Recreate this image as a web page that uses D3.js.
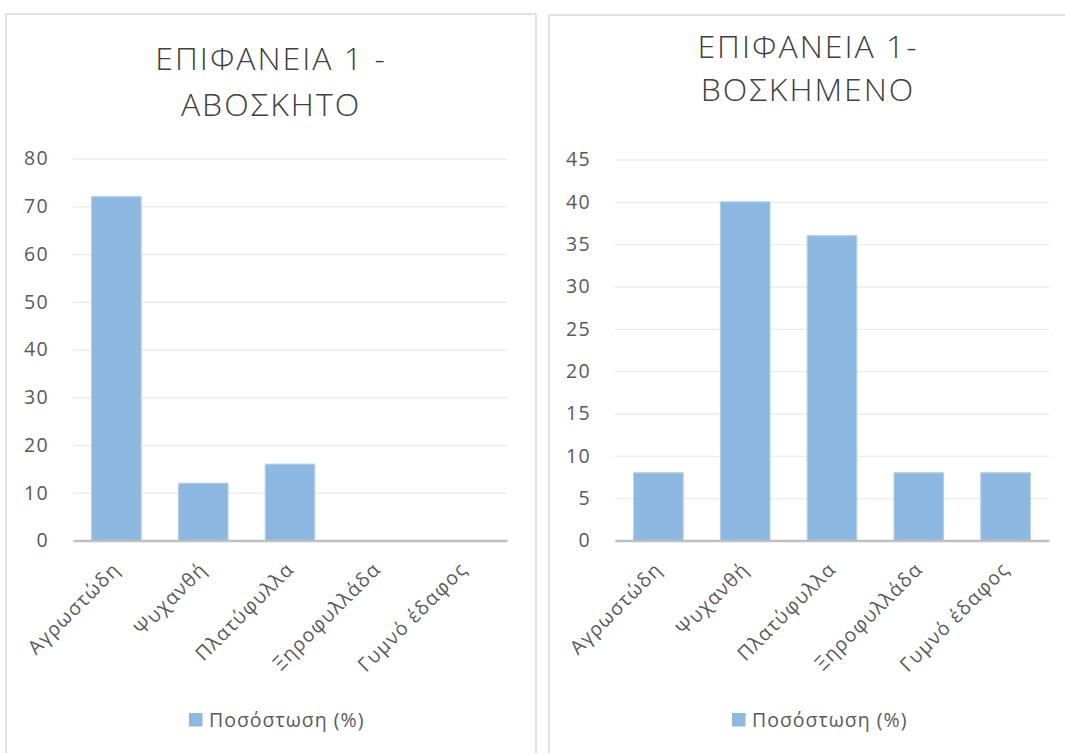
<!DOCTYPE html>
<html>
<head>
<meta charset="utf-8">
<script src="https://cdn.jsdelivr.net/npm/d3@7"></script>
<style>
  html, body { margin: 0; padding: 0; background: #ffffff; }
  svg { display: block; }
</style>
</head>
<body>
<svg id="chart" width="1065" height="753"></svg>
<script>
// ---- data ----
const categories = ["Αγρωστώδη", "Ψυχανθή", "Πλατύφυλλα", "Ξηροφυλλάδα", "Γυμνό έδαφος"];
const valuesUngrazed = [72, 12, 16, 0, 0];
const valuesGrazed = [8, 40, 36, 8, 8];
const ticksUngrazed = [0, 10, 20, 30, 40, 50, 60, 70, 80];
const ticksGrazed = [0, 5, 10, 15, 20, 25, 30, 35, 40, 45];
const titleUngrazed = ["ΕΠΙΦΑΝΕΙΑ 1 -", "ΑΒΟΣΚΗΤΟ"];
const titleGrazed = ["ΕΠΙΦΑΝΕΙΑ 1-", "ΒΟΣΚΗΜΕΝΟ"];
const seriesName = "Ποσόστωση (%)";

const svg = d3.select("#chart");
const FONT = "'Open Sans', 'Noto Sans', sans-serif";
const BAR = "#8db8e2";
const LBL = 19.5, LSP = 1.3;

function drawPanel(cfg) {
  const g = svg.append("g");
  // panel border
  g.append("rect")
    .attr("x", cfg.box[0]).attr("y", cfg.box[1])
    .attr("width", cfg.box[2] - cfg.box[0]).attr("height", cfg.box[3] - cfg.box[1])
    .attr("fill", "#fff").attr("stroke", "#d9d9d9").attr("stroke-width", 1.5);

  // title
  const t = g.append("text")
    .attr("x", cfg.titleX).attr("y", cfg.titleY)
    .attr("text-anchor", "middle")
    .attr("font-family", FONT).attr("font-weight", 300)
    .attr("font-size", 32).attr("letter-spacing", 2)
    .attr("fill", "#404040");
  cfg.title.forEach((line, i) => {
    t.append("tspan").attr("x", cfg.titleX).attr("dy", i === 0 ? 0 : cfg.titleLH).text(line);
  });

  const x = d3.scaleBand().domain(cfg.categories)
    .range([cfg.plot[0], cfg.plot[1]])
    .paddingInner(0.75 / 1.75).paddingOuter(0.75 / 3.5);
  const y = d3.scaleLinear().domain([0, d3.max(cfg.ticks)])
    .range([cfg.plot[3], cfg.plot[2]]);

  // gridlines + y labels
  const yAxis = d3.axisLeft(y).tickValues(cfg.ticks)
    .tickSize(-(cfg.plot[1] - cfg.plot[0])).tickPadding(24).tickFormat(d3.format("d"));
  const ga = g.append("g").attr("transform", `translate(${cfg.plot[0]},0)`).call(yAxis);
  ga.select(".domain").remove();
  ga.selectAll(".tick line").attr("stroke", "#ececec").attr("stroke-width", 1.3);
  ga.selectAll(".tick text")
    .attr("font-family", FONT).attr("font-size", LBL).attr("letter-spacing", LSP)
    .attr("fill", "#595959");

  // bars
  g.selectAll("rect.bar").data(cfg.values).enter().append("rect")
    .attr("class", "bar")
    .attr("x", (d, i) => x(cfg.categories[i]))
    .attr("y", d => y(d))
    .attr("width", x.bandwidth())
    .attr("height", d => y(0) - y(d))
    .attr("fill", BAR)
    .attr("stroke", d => d > 0 ? "#b3cfec" : "none").attr("stroke-width", 1);

  // x axis line + rotated labels
  const xAxis = d3.axisBottom(x).tickSize(0).tickPadding(0);
  const gx = g.append("g").attr("transform", `translate(0,${y(0)})`).call(xAxis);
  gx.select(".domain").attr("stroke", "#bfbfbf").attr("stroke-width", 2.5);
  gx.selectAll(".tick text")
    .attr("font-family", FONT).attr("font-size", LBL).attr("letter-spacing", LSP)
    .attr("fill", "#595959")
    .attr("text-anchor", "end")
    .attr("dy", 0).attr("y", 0)
    .attr("transform", "translate(5,30) rotate(-45)");

  // legend
  const lg = g.append("g").attr("transform", `translate(${cfg.legend[0]},${cfg.legend[1]})`);
  lg.append("rect").attr("x", 0).attr("y", -7).attr("width", 13.5).attr("height", 13.5).attr("fill", BAR);
  lg.append("text").attr("x", 20).attr("y", 0).attr("dy", "0.35em")
    .attr("font-family", FONT).attr("font-size", LBL).attr("letter-spacing", 1.0)
    .attr("fill", "#595959")
    .text(seriesName);
}

drawPanel({
  box: [6, 14, 536, 770],
  title: titleUngrazed, titleX: 271, titleY: 70, titleLH: 46,
  plot: [73, 507, 158.5, 540.5],
  categories: categories, values: valuesUngrazed, ticks: ticksUngrazed,
  legend: [189, 720]
});
drawPanel({
  box: [549, 15, 1068, 770],
  title: titleGrazed, titleX: 808, titleY: 58, titleLH: 43,
  plot: [615, 1049, 159.5, 540.5],
  categories: categories, values: valuesGrazed, ticks: ticksGrazed,
  legend: [732, 720]
});
</script>
</body>
</html>
